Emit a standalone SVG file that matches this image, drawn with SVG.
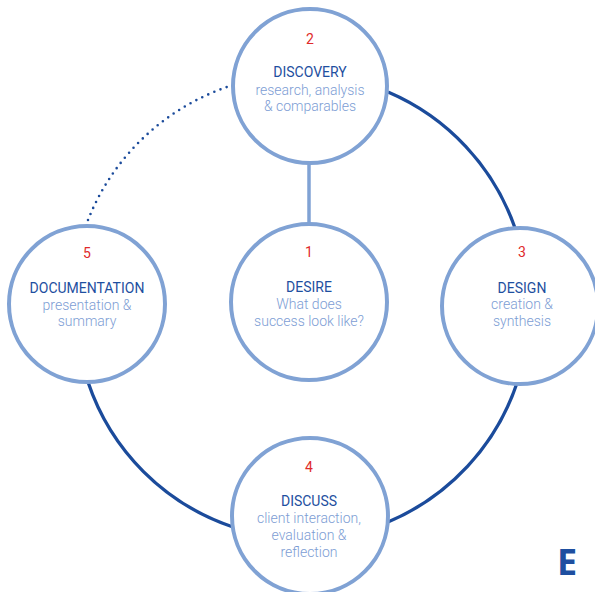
<svg xmlns="http://www.w3.org/2000/svg" width="595" height="592" viewBox="0 0 595 592">
<style>
.node{fill:#fff;stroke:#80a2d4;stroke-width:4}
.arc{fill:none;stroke:#1b4b9b;stroke-width:3.3}
.dot{fill:none;stroke:#1b4b9b;stroke-width:2.6;stroke-linecap:round;stroke-dasharray:0 6.6}
.link{stroke:#80a2d4;stroke-width:3.5}
text{font-family:Roboto,"Liberation Sans",sans-serif;font-size:14px;text-anchor:middle}
.num{fill:#e02a2a}
.ttl{fill:#1e4fa0;font-weight:400}
.sub{fill:#7d9dd4;font-weight:300}
.mark{font-family:"Open Sans","Liberation Sans",sans-serif;font-size:36px;font-weight:700;fill:#1e4fa0;text-anchor:start}
</style>
<rect width="595" height="592" fill="#fff"/>
<g id="connectors">
<path class="arc" d="M388,92 A230,230 0 0 1 515,228"/>
<path class="arc" d="M517,383 A230,230 0 0 1 388,522"/>
<path class="arc" d="M233,527 A230,230 0 0 1 88,382"/>
<path class="dot" d="M88,220 A230,230 0 0 1 227,87"/>
<line class="link" x1="309" y1="163" x2="309" y2="224"/>
</g>
<g id="discovery">
<circle class="node" cx="310" cy="86" r="77"/>
<text class="num" x="310" y="44">2</text>
<text class="ttl" x="310" y="77">DISCOVERY</text>
<text class="sub" x="310" y="95">research, analysis</text>
<text class="sub" x="310" y="111">&amp; comparables</text>
</g>
<g id="desire">
<circle class="node" cx="309" cy="302" r="78"/>
<text class="num" x="309" y="257">1</text>
<text class="ttl" x="309" y="292">DESIRE</text>
<text class="sub" x="309" y="309">What does</text>
<text class="sub" x="309" y="326">success look like?</text>
</g>
<g id="documentation">
<circle class="node" cx="87" cy="304" r="78"/>
<text class="num" x="87" y="258">5</text>
<text class="ttl" x="87" y="293">DOCUMENTATION</text>
<text class="sub" x="87" y="310">presentation &amp;</text>
<text class="sub" x="87" y="326">summary</text>
</g>
<g id="design">
<circle class="node" cx="520" cy="306" r="78"/>
<text class="num" x="522" y="257">3</text>
<text class="ttl" x="522" y="293">DESIGN</text>
<text class="sub" x="522" y="309">creation &amp;</text>
<text class="sub" x="522" y="326">synthesis</text>
</g>
<g id="discuss">
<circle class="node" cx="310" cy="516" r="78"/>
<text class="num" x="309" y="472">4</text>
<text class="ttl" x="309" y="506">DISCUSS</text>
<text class="sub" x="309" y="523">client interaction,</text>
<text class="sub" x="309" y="540">evaluation &amp;</text>
<text class="sub" x="309" y="557">reflection</text>
</g>
<text class="mark" x="557" y="575">E</text>
</svg>
